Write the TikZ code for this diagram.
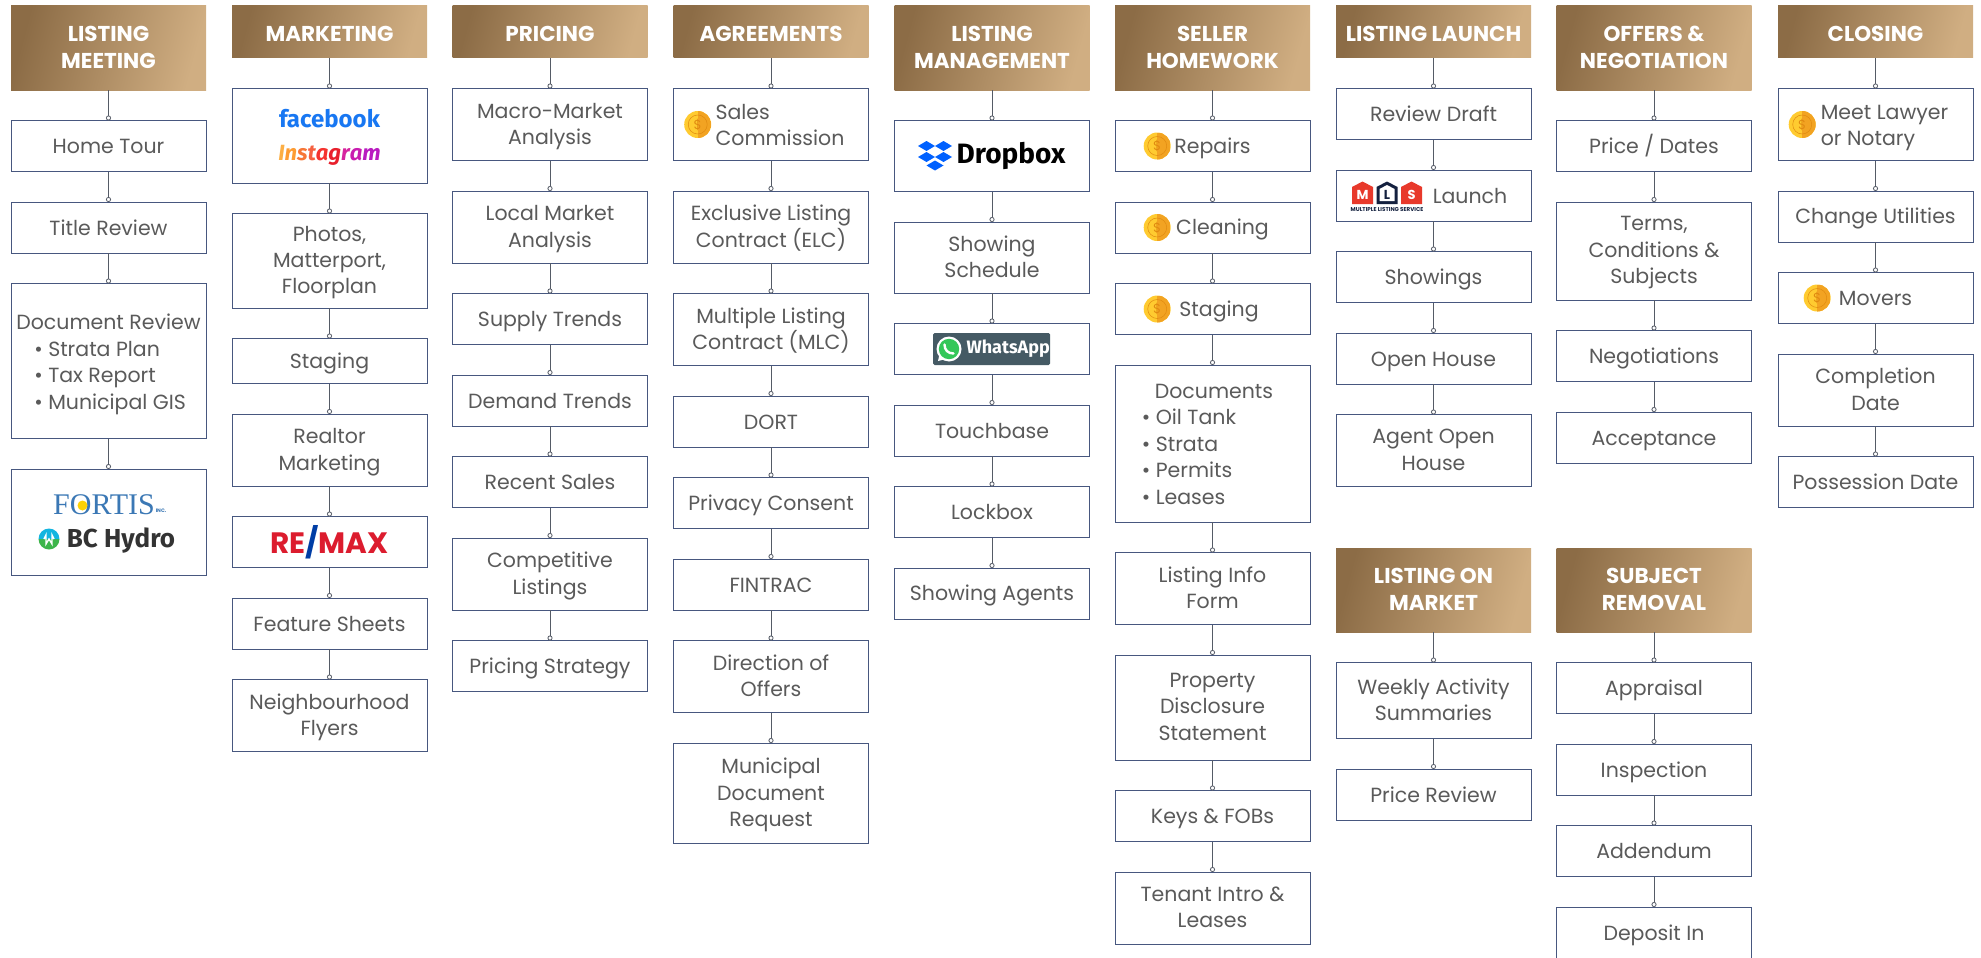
\documentclass[tikz,border=0pt]{standalone}
\usepackage{fontspec}
\setmainfont{Poppins}
\newfontfamily\serifgoal{Liberation Serif}
\newfontfamily\markfont{Fira Sans}
\usetikzlibrary{arrows.meta,positioning,shapes}

\definecolor{goldA}{HTML}{8C6C46}
\definecolor{goldB}{HTML}{D0AE82}
\definecolor{boxline}{HTML}{47577F}
\definecolor{inktext}{HTML}{5A5A5A}
\definecolor{conncol}{HTML}{555B66}
\definecolor{coinA}{HTML}{FFCB30}
\definecolor{coinB}{HTML}{F2A322}
\definecolor{coinC}{HTML}{E08A10}
\definecolor{fbblue}{HTML}{1877F2}
\definecolor{remaxred}{HTML}{DC1C2E}
\definecolor{remaxblue}{HTML}{003DA5}
\definecolor{fortisblue}{HTML}{3B78B5}
\definecolor{hydrogreen}{HTML}{3DB54A}
\definecolor{hydrocyan}{HTML}{12B5E0}
\definecolor{dropblue}{HTML}{0061FF}
\definecolor{waslate}{HTML}{455A64}
\definecolor{wagreen}{HTML}{34C759}
\definecolor{mlsred}{HTML}{E8392B}
\definecolor{mlsnavy}{HTML}{14213F}

\newcommand{\itemstrut}{\rule[-5pt]{0pt}{25.5pt}}
\newcommand{\headstrut}{\rule[-4pt]{0pt}{26.6pt}}
\newcommand{\shifted}[2]{\hspace*{#1pt}\begin{tabular}{@{}l@{}}\rule{0pt}{23.5pt}#2\end{tabular}}
\newcommand{\logosize}[1]{\fontsize{#1}{#1}\selectfont\bfseries}
\newcommand{\marksize}[1]{\markfont\fontsize{#1}{#1}\selectfont\bfseries}
\newcommand{\instaword}{{\color[HTML]{FCAF45}I}{\color[HTML]{FD9C33}n}{\color[HTML]{F77737}s}{\color[HTML]{F56040}t}{\color[HTML]{F5332F}a}{\color[HTML]{E8202C}g}{\color[HTML]{D6249F}r}{\color[HTML]{C91CB0}a}{\color[HTML]{B91CC0}m}}

\tikzset{
  head/.style={draw=none,outer sep=0pt,anchor=north,minimum width=195pt,minimum height=52pt,
    left color=goldA,right color=goldB,shading angle=75,align=center,text=white,inner sep=0pt,
    font=\fontsize{21.5}{26.5}\selectfont\bfseries,execute at begin node=\headstrut,execute at end node=\headstrut},
  headtwo/.style={head,minimum height=84pt,text depth=1pt},
  item/.style={draw=boxline,fill=white,line width=.9pt,outer sep=0pt,minimum width=195pt,minimum height=51pt,
    align=center,inner sep=0pt,text=inktext,font=\fontsize{20.5}{26.4}\selectfont,
    execute at begin node=\itemstrut,execute at end node=\itemstrut},
  itemtall/.style={item,text depth=1.5pt},
  itemtwo/.style={itemtall,minimum height=72pt},
  conn/.style={draw=conncol,line width=1pt,-{Circle[open,length=5pt,width=5pt,fill=white,line width=.8pt]}},
  coin/.style={circle,minimum size=27pt,inner sep=0pt,fill=coinA,text=coinC,font=\fontsize{13}{13}\selectfont,
    path picture={\fill[coinB] (path picture bounding box.north) rectangle (path picture bounding box.south east);
      \draw[coinC,line width=.5pt] (path picture bounding box.center) circle (9.5);}},
}

\begin{document}
\begin{tikzpicture}[x=1pt,y=-1pt,node distance=30.5pt]
  \useasboundingbox (0,0) rectangle (1981,958);

  \node[headtwo] (lm) at (108.5,6) {LISTING\\MEETING};
  \node[item] (lm1) [below=of lm] {Home Tour};
  \node[item] (lm2) [below=of lm1] {Title Review};
  \node[item,minimum height=155pt] (lm3) [below=of lm2] {\begin{tabular}{@{}l@{}}\rule{0pt}{25pt}Document Review\\\hspace*{18pt}• Strata Plan\\\hspace*{18pt}• Tax Report\\\hspace*{18pt}• Municipal GIS\end{tabular}};
  \node[item,minimum height=106pt] (lm4) [below=of lm3] {};

  \node[head] (mk) at (329.5,6) {MARKETING};
  \node[itemtall,minimum height=94.5pt] (mk1) [below=of mk] {{\marksize{24}\color{fbblue}facebook}\\[7pt]{\marksize{22}\itshape\instaword}};
  \node[itemtall,minimum height=94.5pt] (mk2) [below=of mk1] {Photos,\\Matterport,\\Floorplan};
  \node[item,minimum height=45pt] (mk3) [below=of mk2] {Staging};
  \node[itemtwo] (mk4) [below=of mk3] {Realtor\\Marketing};
  \node[item] (mk5) [below=of mk4] {{\logosize{29.5}{\color{remaxred}RE}{\color{remaxblue}/}{\color{remaxred}MAX}}};
  \node[item] (mk6) [below=of mk5] {Feature Sheets};
  \node[itemtwo] (mk7) [below=of mk6] {Neighbourhood\\Flyers};

  \node[head] (pr) at (550,6) {PRICING};
  \node[itemtwo] (pr1) [below=of pr] {Macro-Market\\Analysis};
  \node[itemtwo] (pr2) [below=of pr1] {Local Market\\Analysis};
  \node[item] (pr3) [below=of pr2] {Supply Trends};
  \node[item] (pr4) [below=of pr3] {Demand Trends};
  \node[item] (pr5) [below=of pr4] {Recent Sales};
  \node[itemtwo] (pr6) [below=of pr5] {Competitive\\Listings};
  \node[item] (pr7) [below=of pr6] {Pricing Strategy};

  \node[head] (ag) at (771,6) {AGREEMENTS};
  \node[item,minimum height=72pt] (ag1) [below=of ag] {\shifted{18}{Sales\\Commission}};
  \node[itemtwo] (ag2) [below=of ag1] {Exclusive Listing\\Contract (ELC)};
  \node[itemtwo] (ag3) [below=of ag2] {Multiple Listing\\Contract (MLC)};
  \node[item] (ag4) [below=of ag3] {DORT};
  \node[item] (ag5) [below=of ag4] {Privacy Consent};
  \node[item] (ag6) [below=of ag5] {FINTRAC};
  \node[itemtwo] (ag7) [below=of ag6] {Direction of\\Offers};
  \node[itemtall,minimum height=100pt] (ag8) [below=of ag7] {Municipal\\Document\\Request};

  \node[headtwo] (mg) at (992,6) {LISTING\\MANAGEMENT};
  \node[item,minimum height=71pt] (mg1) [below=of mg] {{\hspace*{38pt}\marksize{28}\color{black}Dropbox}};
  \node[itemtall,minimum height=71pt] (mg2) [below=of mg1] {Showing\\Schedule};
  \node[item] (mg3) [below=of mg2] {};
  \node[item] (mg4) [below=of mg3] {Touchbase};
  \node[item] (mg5) [below=of mg4] {Lockbox};
  \node[item] (mg6) [below=of mg5] {Showing Agents};

  \node[headtwo] (hw) at (1212.5,6) {SELLER\\HOMEWORK};
  \node[item] (hw1) [below=of hw] {Repairs};
  \node[item] (hw2) [below=of hw1] {\hspace*{20pt}Cleaning};
  \node[item] (hw3) [below=of hw2] {\hspace*{13pt}Staging};
  \node[item,minimum height=157pt] (hw4) [below=of hw3] {\hspace*{-10pt}\begin{tabular}{@{}l@{}}\rule{0pt}{23.5pt}\hspace*{13pt}Documents\\• Oil Tank\\• Strata\\• Permits\\• Leases\end{tabular}};
  \node[itemtwo] (hw5) [below=of hw4] {Listing Info\\Form};
  \node[itemtall,minimum height=105pt] (hw6) [below=of hw5] {Property\\Disclosure\\Statement};
  \node[item] (hw7) [below=of hw6] {Keys \& FOBs};
  \node[itemtwo] (hw8) [below=of hw7] {Tenant Intro \&\\Leases};

  \node[head] (ll) at (1433.5,6) {LISTING LAUNCH};
  \node[item] (ll1) [below=of ll] {Review Draft};
  \node[item] (ll2) [below=of ll1] {\hspace*{73pt}Launch};
  \node[item] (ll3) [below=of ll2] {Showings};
  \node[item] (ll4) [below=of ll3] {Open House};
  \node[itemtwo] (ll5) [below=of ll4] {Agent Open\\House};

  \node[headtwo] (om) at (1433.5,548) {LISTING ON\\MARKET};
  \node[itemtall,minimum height=76pt] (om1) [below=of om] {Weekly Activity\\Summaries};
  \node[item] (om2) [below=of om1] {Price Review};

  \node[headtwo] (of) at (1654,6) {OFFERS \&\\NEGOTIATION};
  \node[item] (of1) [below=of of] {Price / Dates};
  \node[itemtall,minimum height=98pt] (of2) [below=of of1] {Terms,\\Conditions \&\\Subjects};
  \node[item] (of3) [below=of of2] {Negotiations};
  \node[item] (of4) [below=of of3] {Acceptance};

  \node[headtwo] (sr) at (1654,548) {SUBJECT\\REMOVAL};
  \node[item] (sr1) [below=of sr] {Appraisal};
  \node[item] (sr2) [below=of sr1] {Inspection};
  \node[item] (sr3) [below=of sr2] {Addendum};
  \node[item] (sr4) [below=of sr3] {Deposit In};

  \node[head] (cl) at (1875.5,6) {CLOSING};
  \node[item,minimum height=72pt] (cl1) [below=of cl] {\shifted{18}{Meet Lawyer\\or Notary}};
  \node[item] (cl2) [below=of cl1] {Change Utilities};
  \node[item] (cl3) [below=of cl2] {Movers};
  \node[itemtwo] (cl4) [below=of cl3] {Completion\\Date};
  \node[item] (cl5) [below=of cl4] {Possession Date};

  \path[conn]
    (lm) edge (lm1) (lm1) edge (lm2) (lm2) edge (lm3) (lm3) edge (lm4)
    (mk) edge (mk1) (mk1) edge (mk2) (mk2) edge (mk3) (mk3) edge (mk4) (mk4) edge (mk5) (mk5) edge (mk6) (mk6) edge (mk7)
    (pr) edge (pr1) (pr1) edge (pr2) (pr2) edge (pr3) (pr3) edge (pr4) (pr4) edge (pr5) (pr5) edge (pr6) (pr6) edge (pr7)
    (ag) edge (ag1) (ag1) edge (ag2) (ag2) edge (ag3) (ag3) edge (ag4) (ag4) edge (ag5) (ag5) edge (ag6) (ag6) edge (ag7) (ag7) edge (ag8)
    (mg) edge (mg1) (mg1) edge (mg2) (mg2) edge (mg3) (mg3) edge (mg4) (mg4) edge (mg5) (mg5) edge (mg6)
    (hw) edge (hw1) (hw1) edge (hw2) (hw2) edge (hw3) (hw3) edge (hw4) (hw4) edge (hw5) (hw5) edge (hw6) (hw6) edge (hw7) (hw7) edge (hw8)
    (ll) edge (ll1) (ll1) edge (ll2) (ll2) edge (ll3) (ll3) edge (ll4) (ll4) edge (ll5)
    (om) edge (om1) (om1) edge (om2)
    (of) edge (of1) (of1) edge (of2) (of2) edge (of3) (of3) edge (of4)
    (sr) edge (sr1) (sr1) edge (sr2) (sr2) edge (sr3) (sr3) edge (sr4)
    (cl) edge (cl1) (cl1) edge (cl2) (cl2) edge (cl3) (cl3) edge (cl4) (cl4) edge (cl5);

  \node[coin] (coin1) [right=10.5pt of ag1.west] {\$};
  \node[coin] (coin2) [right=28.5pt of hw1.west] {\$};
  \node[coin] (coin3) [right=28.5pt of hw2.west] {\$};
  \node[coin] (coin4) [right=28.5pt of hw3.west] {\$};
  \node[coin] (coin5) [right=10.5pt of cl1.west] {\$};
  \node[coin] (coin6) [right=25.5pt of cl3.west] {\$};

  % utility logos
  \node[text=fortisblue,font=\serifgoal\fontsize{30}{30}\selectfont] (fortis) at (104,505) {FORTIS};
  \node[text=fortisblue,font=\bfseries\fontsize{5}{5}\selectfont,inner sep=0pt] (fortisinc) at (161,511) {INC.};
  \fill[yellow!70!orange] (82.5,505.5) circle (5);
  \node[text=black!80,font=\marksize{26}] (hydro) at (121,541) {BC Hydro};
  \fill[hydrogreen] (38.5,539) arc (180:360:10.5 and -10.5) -- cycle;
  \fill[hydrocyan] (38.5,539) arc (180:0:10.5 and -10.5) -- cycle;
  \draw[white,line width=1.4pt] (44,539) -- (46,535) -- (46,544) -- (49,539) -- (52,544) -- (52,535) -- (54,539);

  % dropbox mark
  \foreach \px/\py in {926.5/146,943.5/146,926.5/157,943.5/157,935/165.5}
    \fill[dropblue] (\px-8.5,\py) -- (\px,\py-5) -- (\px+8.5,\py) -- (\px,\py+5) -- cycle;

  % whatsapp mark
  \node[fill=waslate,rounded corners=1.5pt,minimum width=117pt,minimum height=32pt,inner sep=0pt,anchor=west,
    text=white,font=\marksize{18}] (wa) at (933,349) {\hspace*{33pt}WhatsApp};
  \fill[white] (949,349) circle (12.5) (938,361) -- (940,352) -- (946,359) -- cycle;
  \fill[wagreen] (949,349) circle (10.2);
  \draw[white,line width=2.4pt,line cap=round] (944.5,344.5) .. controls (944.5,350) and (948,353.5) .. (953.5,353.5);

  % mls mark
  \foreach \mx/\mc/\ml in {1352/mlsred/M,1376.5/mlsnavy/L,1401/mlsred/S}
    \fill[\mc] (\mx,187) -- (\mx+10.5,181.5) -- (\mx+21,187) -- (\mx+21,204) -- (\mx,204) -- cycle;
  \fill[white] (1379.5,189) -- (1387,185) -- (1394.5,189) -- (1394.5,201) -- (1379.5,201) -- cycle;
  \node[text=white,font=\logosize{13}] (mlsm) at (1362.5,194.5) {M};
  \node[text=mlsnavy,font=\logosize{13}] (mlsl) at (1387,194.5) {L};
  \node[text=white,font=\logosize{13}] (mlss) at (1411.5,194.5) {S};
  \node[text=mlsnavy,font=\logosize{5.6}] (mlscap) at (1387,209.5) {MULTIPLE LISTING SERVICE};
\end{tikzpicture}
\end{document}
